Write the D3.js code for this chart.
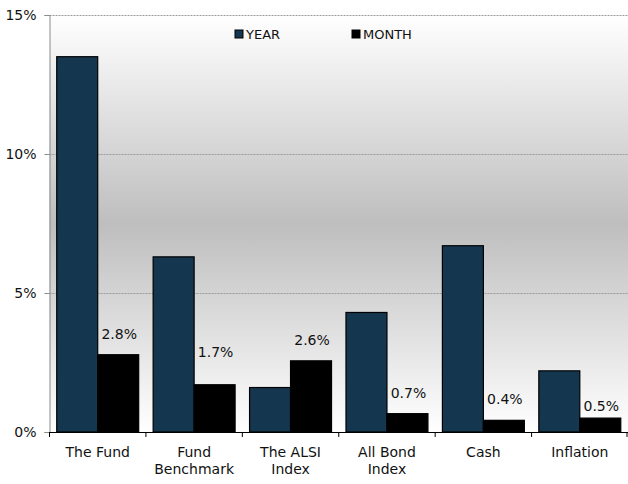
<!DOCTYPE html>
<html><head><meta charset="utf-8">
<script src="https://cdn.jsdelivr.net/npm/d3@7"></script>
<style>
html,body{margin:0;padding:0;background:#fff;}
text{font-family:"DejaVu Sans",sans-serif;}
</style></head>
<body><svg id="c" width="628" height="484"></svg>
<script>
const categories = [["The Fund"],["Fund","Benchmark"],["The ALSI","Index"],["All Bond","Index"],["Cash"],["Inflation"]];
const seriesNames = ["YEAR","MONTH"];
const yearValues = [13.5, 6.3, 1.6, 4.3, 6.7, 2.2];
const monthValues = [2.78, 1.7, 2.56, 0.66, 0.42, 0.5];
const yTicks = [0, 5, 10, 15];
const labelShift = [0, -12, 0, 0, 0, 9];

const svg = d3.select("#c");
const M = {l:49.5, r:628, t:15, b:432};
const x0 = d3.scaleBand().domain(d3.range(categories.length)).range([M.l, M.r]).paddingInner(0.15).paddingOuter(0.075);
const xb = d3.scaleBand().domain(d3.range(categories.length)).range([M.l, M.r]);
const x1 = d3.scaleBand().domain(seriesNames).range([0, x0.bandwidth()]);
const y = d3.scaleLinear().domain([0,15]).range([M.b, M.t]);
const colors = {YEAR:"#14374f", MONTH:"#000"};

const defs = svg.append("defs");
const g = defs.append("linearGradient").attr("id","bg").attr("x1",0).attr("x2",0).attr("y1",0).attr("y2",1);
g.append("stop").attr("offset","0%").attr("stop-color","#ffffff");
g.append("stop").attr("offset","50%").attr("stop-color","#bebebe");
g.append("stop").attr("offset","100%").attr("stop-color","#ffffff");
svg.append("rect").attr("x",M.l).attr("y",M.t).attr("width",M.r-M.l).attr("height",M.b-M.t).attr("fill","url(#bg)");

// gridlines
svg.append("g").selectAll("line").data(yTicks.filter(d=>d>0)).join("line")
  .attr("x1",M.l).attr("x2",M.r).attr("y1",d=>Math.round(y(d))+0.5).attr("y2",d=>Math.round(y(d))+0.5)
  .attr("stroke","#9a9a9a").attr("stroke-width",1).attr("stroke-dasharray","2,1");

// y axis
const yAxis = svg.append("g").attr("transform",`translate(${M.l},0)`)
  .call(d3.axisLeft(y).tickValues(yTicks).tickFormat(d=>d+"%").tickSize(5).tickPadding(8));
yAxis.select(".domain").attr("stroke","#8c8c8c");
yAxis.selectAll(".tick line").attr("stroke","#8c8c8c");
yAxis.selectAll("text").attr("font-size",14).attr("fill","#111");

// bars
const data = categories.map((c,i)=>({i, vals:[{k:"YEAR",v:yearValues[i]},{k:"MONTH",v:monthValues[i]}]}));
const grp = svg.append("g").selectAll("g").data(data).join("g").attr("transform",d=>`translate(${x0(d.i)},0)`);
grp.selectAll("rect").data(d=>d.vals).join("rect")
  .attr("x",d=>x1(d.k)).attr("width",x1.bandwidth())
  .attr("y",d=>y(d.v)).attr("height",d=>y(0)-y(d.v))
  .attr("fill",d=>colors[d.k]).attr("stroke","#000").attr("stroke-width",1.2);

// month labels
svg.append("g").selectAll("text").data(data).join("text")
  .attr("x",d=>x0(d.i)+x1("MONTH")+x1.bandwidth()/2+1)
  .attr("y",d=>y(monthValues[d.i])-16+labelShift[d.i])
  .attr("text-anchor","middle").attr("font-size",14).attr("fill","#111")
  .text(d=>d3.format(".1f")(monthValues[d.i])+"%");

// x axis
const xAxis = svg.append("g").attr("transform",`translate(0,${M.b})`);
xAxis.append("line").attr("x1",M.l).attr("x2",M.r).attr("y1",0.5).attr("y2",0.5).attr("stroke","#000").attr("stroke-width",1.2);
xAxis.selectAll("line.t").data(d3.range(categories.length+1)).join("line").attr("class","t")
  .attr("x1",i=>i<categories.length?xb(i):M.r-1).attr("x2",i=>i<categories.length?xb(i):M.r-1)
  .attr("y1",0).attr("y2",5).attr("stroke","#000");
const lbl = xAxis.selectAll("text").data(categories).join("text")
  .attr("text-anchor","middle").attr("font-size",14).attr("fill","#111")
  .attr("transform",(d,i)=>`translate(${xb(i)+xb.bandwidth()/2},0)`);
lbl.selectAll("tspan").data(d=>d).join("tspan").attr("x",0).attr("y",(d,j)=>25+j*17).text(d=>d);

// legend
const leg = svg.append("g").selectAll("g").data(seriesNames).join("g")
  .attr("transform",(d,i)=>`translate(${235+i*117},28)`);
leg.append("rect").attr("width",8).attr("height",8).attr("y",2).attr("fill",d=>colors[d]).attr("stroke","#000");
leg.append("text").attr("x",11).attr("y",10.5).attr("font-size",13).attr("fill","#111").text(d=>d);
</script></body></html>
